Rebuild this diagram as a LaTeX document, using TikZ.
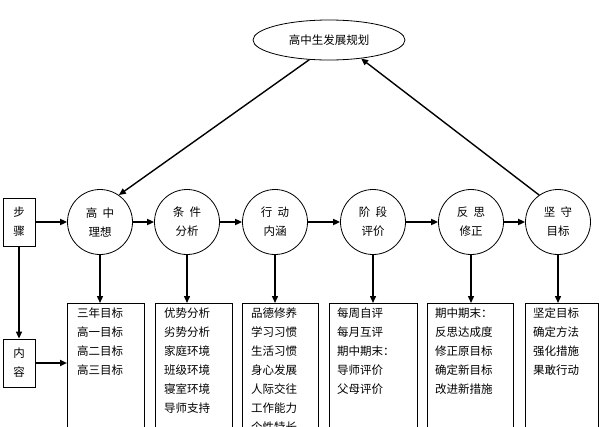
\documentclass[tikz,border=0pt]{standalone}
\usepackage{fontspec}
\setmainfont{Noto Sans CJK SC}
\usetikzlibrary{arrows.meta,shapes.geometric}
\begin{document}
\begin{tikzpicture}[x=1pt,y=-1pt,font=\fontsize{11.5}{19}\selectfont,
  circ/.style={draw,thick,circle,minimum size=65pt,inner sep=0pt,align=center,fill=white},
  side/.style={draw,thick,minimum width=32pt,minimum height=48pt,align=center,inner sep=0pt},
  arr/.style={-{Triangle[length=7pt,width=6pt]},line width=1.4pt},
  harr/.style={-{Triangle[length=7pt,width=6pt]},line width=2.6pt}]
\useasboundingbox (0,0) rectangle (600,426);
\node[draw,thick,ellipse,minimum width=152pt,minimum height=40pt] (top) at (329,40) {高中生发展规划};
\foreach \n/\x/\t in {a/100/高\ \ 中\\理想, b/187/条\ \ 件\\分析, c/275/行\ \ 动\\内涵, d/373/阶\ \ 段\\评价, e/471/反\ \ 思\\修正, f/558/坚\ \ 守\\目标}
  \node[circ] (\n) at (\x,222) {\t};
\node[side] (s1) at (19,222) {步\\骤};
\node[side] (s2) at (19,363) {内\\容};
\begin{scope}
\clip (0,0) rectangle (600,426);
\foreach \l/\r in {67/144, 155/232, 242/318, 329/417, 427/513, 525/598}
  \draw[thick] (\l,440) -- (\l,303) -- (\r,303) -- (\r,440);
\node[anchor=north west,align=left,inner sep=0pt] at (77,308) {三年目标\\高一目标\\高二目标\\高三目标};
\node[anchor=north west,align=left,inner sep=0pt] at (164,308) {优势分析\\劣势分析\\家庭环境\\班级环境\\寝室环境\\导师支持};
\node[anchor=north west,align=left,inner sep=0pt] at (251,308) {品德修养\\学习习惯\\生活习惯\\身心发展\\人际交往\\工作能力\\个性特长};
\node[anchor=north west,align=left,inner sep=0pt] at (337,308) {每周自评\\每月互评\\期中期末：\\导师评价\\父母评价};
\node[anchor=north west,align=left,inner sep=0pt] at (435,308) {期中期末：\\反思达成度\\修正原目标\\确定新目标\\改进新措施};
\node[anchor=north west,align=left,inner sep=0pt] at (533,308) {坚定目标\\确定方法\\强化措施\\果敢行动};
\end{scope}
\foreach \n in {a,b,c,d,e,f} \draw[arr] (\n.south) -- (\n.south |- 0,303);
\draw[harr] (a) -- (b); \draw[harr] (b) -- (c); \draw[harr] (c) -- (d);
\draw[harr] (d) -- (e); \draw[harr] (e) -- (f);
\draw[harr] (s1) -- (a);
\draw[arr] (s1) -- (s2);
\draw[harr] (s2.east) -- (67,363);
\draw[arr] (top.225) -- (a.55);
\draw[arr] (f.125) -- (top.330);
\end{tikzpicture}
\end{document}
